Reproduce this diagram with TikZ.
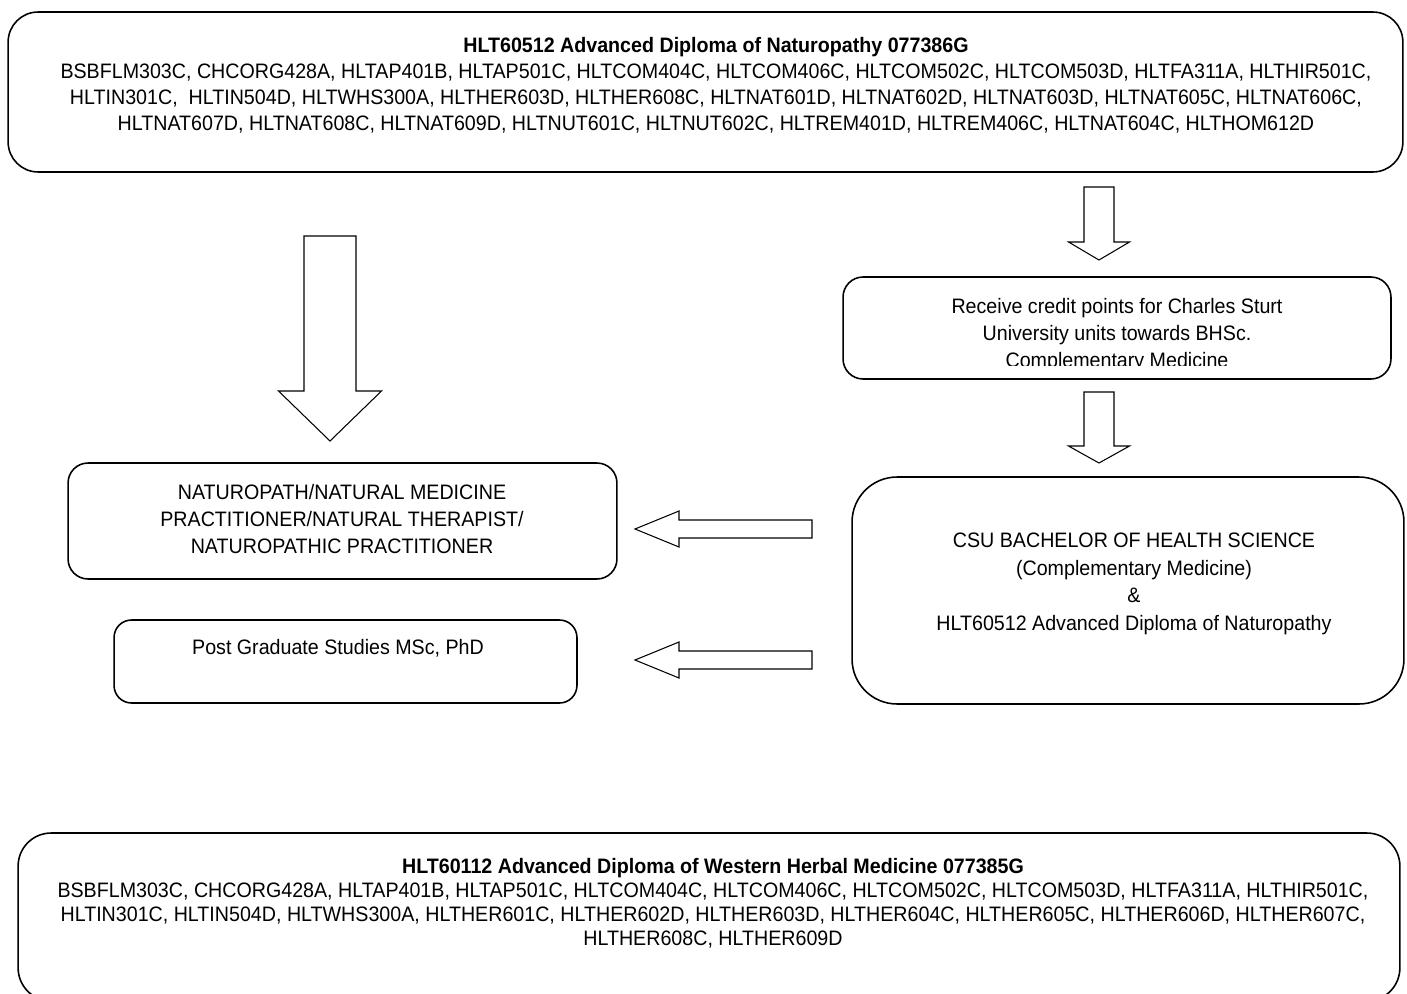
\documentclass[tikz,border=0pt]{standalone}
\usepackage{fontspec}
\setmainfont[FakeStretch=0.94]{Liberation Sans}
\usetikzlibrary{positioning}
\newcommand*{\DownArrows}[1]{% #1 = list of x/top/base/tip
  \foreach \x/\top/\base/\tip in {#1} {
    \draw [arrowline] (\x-\sw,\top) -- (\x+\sw,\top) -- (\x+\sw,\base) -- (\x+\hw,\base)
      -- (\x,\tip) -- (\x-\hw,\base) -- (\x-\sw,\base) -- cycle;
    }%
}
\newcommand*{\LeftArrows}[1]{% #1 = list of y/right/base/tip
  \foreach \y/\right/\base/\tip in {#1} {
    \draw [arrowline] (\right,\y-9) -- (\right,\y+9) -- (\base,\y+9) -- (\base,\y+18)
      -- (\tip,\y) -- (\base,\y-18) -- (\base,\y-9) -- cycle;
    }%
}
\tikzset{
  box/.style={draw=black, line width=.9pt},
  txt/.style={align=center, font=\fontsize{11.9}{14.8}\selectfont, inner sep=0pt},
  arrowline/.style={draw=black, line width=.6pt}
}

\begin{document}
\begin{tikzpicture}[x=0.02cm,y=-0.02cm]
    \useasboundingbox (0,0) rectangle (1407,994);

    % boxes
    \node [box, rounded corners=.6cm, minimum width=27.9cm, minimum height=3.2cm] (top) at (705.5,92) {};
    \node [box, rounded corners=.4cm, minimum width=10.96cm, minimum height=2.04cm] (credit) at (1117,328) {};
    \node [box, rounded corners=.4cm, minimum width=10.98cm, minimum height=2.32cm] (naturo) at (342.5,521) {};
    \node [box, rounded corners=.35cm, minimum width=9.26cm, minimum height=1.66cm] (postgrad) at (345.5,661.5) {};
    \node [box, rounded corners=.9cm, minimum width=11.04cm, minimum height=4.54cm] (csu) at (1128,590.5) {};
    \node [box, rounded corners=.66cm, minimum width=27.64cm, minimum height=3.36cm] (herbal) at (709,917) {};

    % texts
    \node [txt] (toptext) at (716,85) {\textbf{HLT60512 Advanced Diploma of Naturopathy 077386G}\\
      BSBFLM303C, CHCORG428A, HLTAP401B, HLTAP501C, HLTCOM404C, HLTCOM406C, HLTCOM502C, HLTCOM503D, HLTFA311A, HLTHIR501C,\\
      HLTIN301C,\ \ HLTIN504D, HLTWHS300A, HLTHER603D, HLTHER608C, HLTNAT601D, HLTNAT602D, HLTNAT603D, HLTNAT605C, HLTNAT606C,\\
      HLTNAT607D, HLTNAT608C, HLTNAT609D, HLTNUT601C, HLTNUT602C, HLTREM401D, HLTREM406C, HLTNAT604C, HLTHOM612D};
    \begin{scope}
      \clip (850,280) rectangle (1385,365);
      \node [txt, font=\fontsize{11.9}{15.4}\selectfont, anchor=north] (credittext) at (1117,297.5) {Receive credit points for Charles Sturt\\
        University units towards BHSc.\\ Complementary Medicine};
    \end{scope}
    \node [txt, font=\fontsize{11.9}{15.2}\selectfont] (naturotext) at (342,519) {NATUROPATH/NATURAL MEDICINE\\
      PRACTITIONER/NATURAL THERAPIST/\\ NATUROPATHIC PRACTITIONER};
    \node [txt] (postgradtext) at (338,648) {Post Graduate Studies MSc, PhD};
    \node [txt, font=\fontsize{11.9}{15.7}\selectfont] (csutext) at (1134,584) {CSU BACHELOR OF HEALTH SCIENCE\\
      (Complementary Medicine)\\ \&\\ HLT60512 Advanced Diploma of Naturopathy};
    \node [txt, font=\fontsize{11.9}{13.7}\selectfont] (herbaltext) at (713,903) {\textbf{HLT60112 Advanced Diploma of Western Herbal Medicine 077385G}\\
      BSBFLM303C, CHCORG428A, HLTAP401B, HLTAP501C, HLTCOM404C, HLTCOM406C, HLTCOM502C, HLTCOM503D, HLTFA311A, HLTHIR501C,\\
      HLTIN301C, HLTIN504D, HLTWHS300A, HLTHER601C, HLTHER602D, HLTHER603D, HLTHER604C, HLTHER605C, HLTHER606D, HLTHER607C,\\
      HLTHER608C, HLTHER609D};

    % block arrows
    \def\sw{26}\def\hw{51.5}
    \DownArrows{330/236/391/441}
    \def\sw{15}\def\hw{30.5}
    \DownArrows{
      1099/187/242/260,
      1099/392/446/463
    }
    \LeftArrows{
      529/812/679/635,
      660/812/679/635
    }
\end{tikzpicture}
\end{document}
